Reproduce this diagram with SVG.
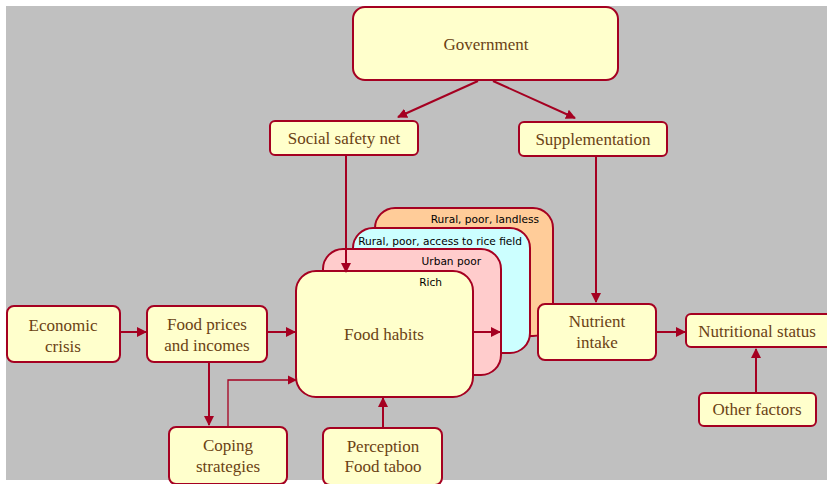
<svg xmlns="http://www.w3.org/2000/svg" width="827" height="484" viewBox="0 0 827 484">
<style>
.box{fill:#FFFFCC;stroke:#A50021;stroke-width:2}
.t{font-family:"Liberation Serif","Times New Roman",serif;font-size:17px;fill:#6B4214;text-anchor:middle}
.s{font-family:"DejaVu Sans",sans-serif;font-size:10.6px;fill:#000;text-anchor:end}
.c{fill:none;stroke:#A50021;stroke-width:2}
.thin{fill:none;stroke:#A50021;stroke-width:1.3}
</style>
<defs>
<marker id="ah" viewBox="0 0 10 10" refX="9" refY="5" markerWidth="5" markerHeight="5" orient="auto" markerUnits="strokeWidth">
<path d="M0,0 L10,5 L0,10 z" fill="#A50021"/>
</marker>
<marker id="ah2" viewBox="0 0 10 10" refX="9" refY="5" markerWidth="7" markerHeight="7" orient="auto" markerUnits="strokeWidth">
<path d="M0,0 L10,5 L0,10 z" fill="#A50021"/>
</marker>
</defs>
<rect x="0" y="0" width="827" height="484" fill="#FFFFFF"/>
<rect x="6" y="6" width="821" height="474" fill="#C0C0C0"/>

<g id="government">
<rect class="box" x="353" y="7" width="265" height="73" rx="12"/>
<text class="t" x="486" y="50">Government</text>
</g>
<g id="social-safety-net">
<rect class="box" x="270" y="121" width="148" height="34" rx="5"/>
<text class="t" x="344" y="144">Social safety net</text>
</g>
<g id="supplementation">
<rect class="box" x="519" y="122" width="148" height="34" rx="5"/>
<text class="t" x="593" y="145">Supplementation</text>
</g>

<g id="rural-poor-landless">
<rect x="375" y="208" width="178" height="128" rx="20" fill="#FFCC99" stroke="#A50021" stroke-width="2"/>
<text class="s" x="539" y="223">Rural, poor, landless</text>
</g>
<g id="rural-poor-access">
<rect x="353" y="228" width="177" height="125" rx="20" fill="#CCFFFF" stroke="#A50021" stroke-width="2"/>
<text class="s" x="522" y="245">Rural, poor, access to rice field</text>
</g>
<g id="urban-poor">
<rect x="323" y="249" width="178" height="126" rx="20" fill="#FFCCCC" stroke="#A50021" stroke-width="2"/>
<text class="s" x="481" y="265">Urban poor</text>
</g>
<g id="food-habits">
<rect class="box" x="296" y="271" width="177" height="126" rx="20"/>
<text class="s" x="442" y="286">Rich</text>
<text class="t" x="384" y="340">Food habits</text>
</g>

<g id="economic-crisis">
<rect class="box" x="7" y="306" width="113" height="56" rx="7"/>
<text class="t" x="63" y="331">Economic</text>
<text class="t" x="63" y="352">crisis</text>
</g>
<g id="food-prices">
<rect class="box" x="147" y="306" width="120" height="56" rx="7"/>
<text class="t" x="207" y="330">Food prices</text>
<text class="t" x="207" y="351">and incomes</text>
</g>
<g id="coping-strategies">
<rect class="box" x="169" y="427" width="118" height="57" rx="7"/>
<text class="t" x="228" y="451">Coping</text>
<text class="t" x="228" y="472">strategies</text>
</g>
<g id="perception">
<rect class="box" x="323" y="428" width="119" height="57" rx="7"/>
<text class="t" x="383" y="452">Perception</text>
<text class="t" x="383" y="472">Food taboo</text>
</g>
<g id="nutrient-intake">
<rect class="box" x="538" y="304" width="118" height="56" rx="7"/>
<text class="t" x="597" y="327">Nutrient</text>
<text class="t" x="597" y="348">intake</text>
</g>
<g id="nutritional-status">
<rect class="box" x="686" y="314" width="146" height="33" rx="5"/>
<text class="t" x="757" y="337">Nutritional status</text>
</g>
<g id="other-factors">
<rect class="box" x="699" y="393" width="117" height="33" rx="5"/>
<text class="t" x="757" y="415">Other factors</text>
</g>

<g id="connectors">
<line class="c" x1="478" y1="81" x2="398" y2="117" marker-end="url(#ah)"/>
<line class="c" x1="493" y1="81" x2="575" y2="118" marker-end="url(#ah)"/>
<line class="c" x1="346" y1="156" x2="346" y2="272" marker-end="url(#ah)"/>
<line class="c" x1="596" y1="157" x2="596" y2="302" marker-end="url(#ah)"/>
<line class="c" x1="121" y1="332" x2="146" y2="332" marker-end="url(#ah)"/>
<line class="c" x1="268" y1="332" x2="295" y2="332" marker-end="url(#ah)"/>
<line class="c" x1="209" y1="363" x2="209" y2="425" marker-end="url(#ah)"/>
<polyline class="thin" points="228,426 228,380 296,380" marker-end="url(#ah2)"/>
<line class="c" x1="383" y1="427" x2="383" y2="398" marker-end="url(#ah)"/>
<line class="c" x1="474" y1="332" x2="500" y2="332" marker-end="url(#ah)"/>
<line class="c" x1="657" y1="332" x2="685" y2="332" marker-end="url(#ah)"/>
<line class="c" x1="756" y1="392" x2="756" y2="349" marker-end="url(#ah)"/>
</g>
</svg>
